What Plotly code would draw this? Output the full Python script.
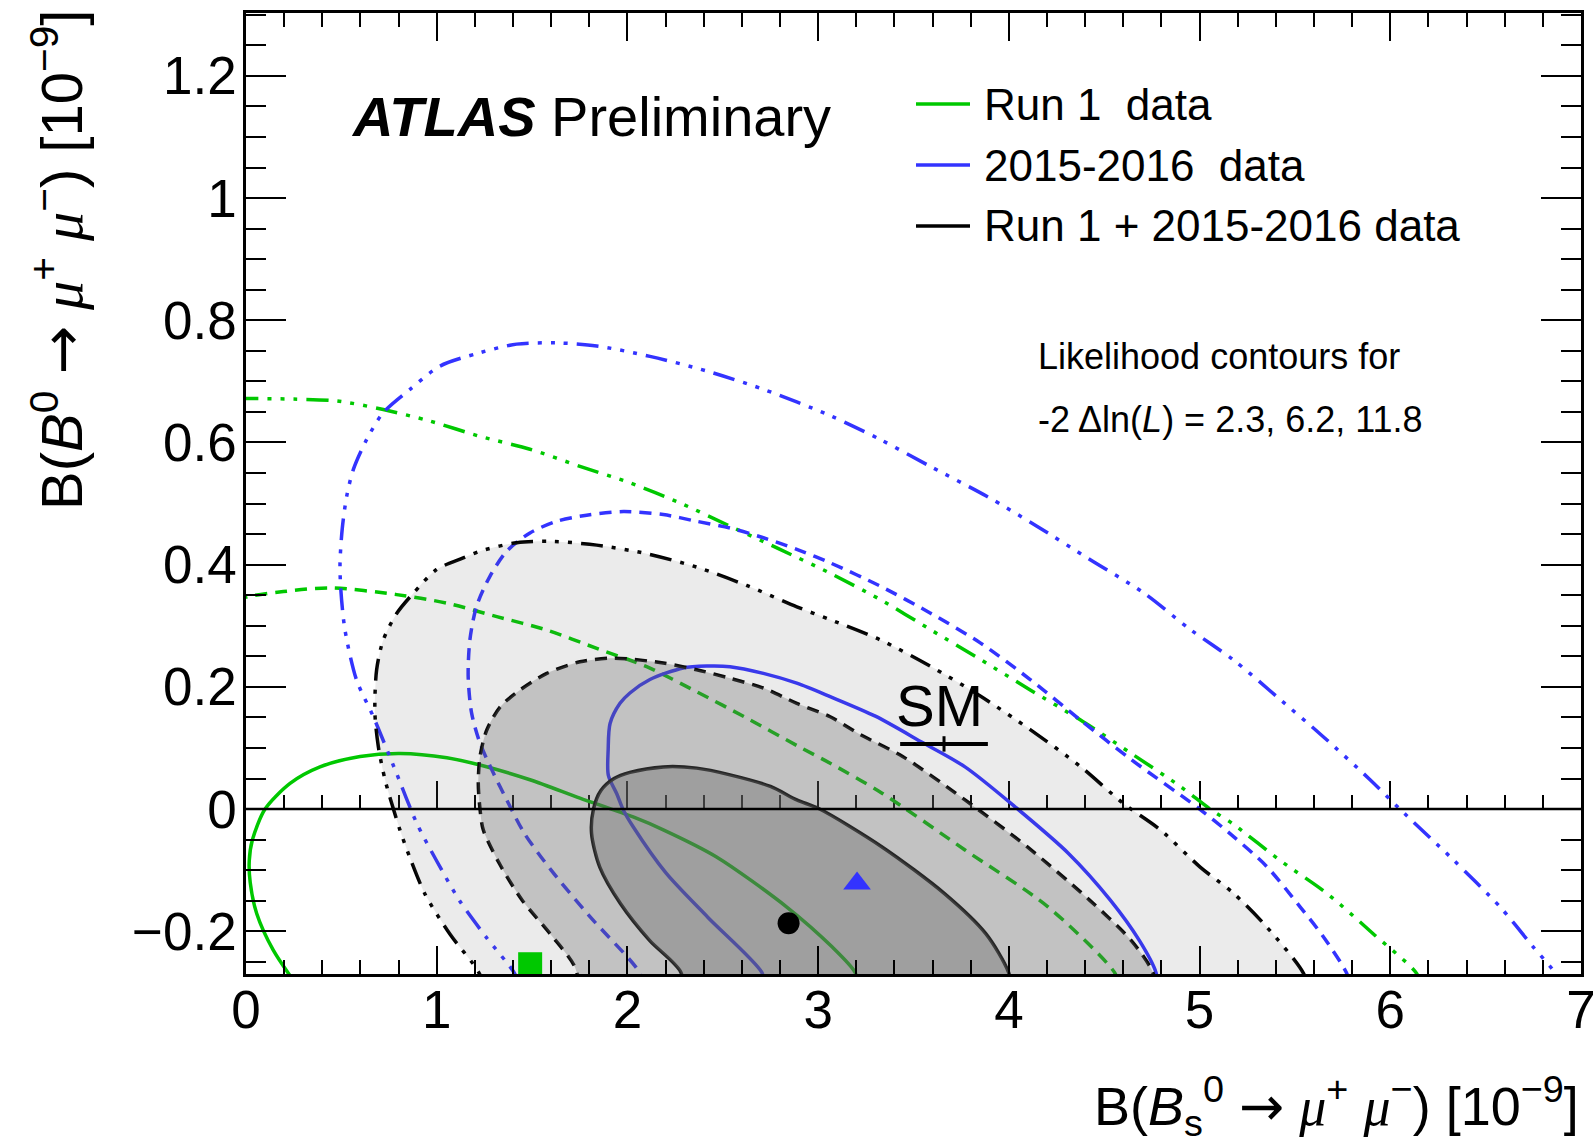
import plotly.graph_objects as go

# ---------------- data ----------------
# Run 1 contours (green): -2 dlnL = 2.3 (solid), 6.2 (dashed), 11.8 (dash-dot)
run1_23_x = [0.27, 0.143, 0.056, 0.022, 0.017, 0.033, 0.1, 0.231, 0.388, 0.598, 0.808, 1.053, 1.227, 1.489, 1.751, 2.03, 2.188, 2.465, 2.834, 3.074, 3.193, 3.21]
run1_23_y = [-0.29, -0.231, -0.171, -0.12, -0.085, -0.051, 0.0, 0.042, 0.069, 0.086, 0.091, 0.084, 0.072, 0.048, 0.018, -0.013, -0.034, -0.078, -0.16, -0.226, -0.267, -0.29]
run1_62_x = [-0.05, 0.0, 0.196, 0.44, 0.79, 1.053, 1.315, 1.577, 1.839, 2.101, 2.363, 2.625, 2.9, 3.063, 3.335, 3.77, 4.205, 4.553, 4.58]
run1_62_y = [0.34, 0.347, 0.356, 0.362, 0.351, 0.337, 0.315, 0.293, 0.263, 0.233, 0.192, 0.149, 0.102, 0.075, 0.026, -0.067, -0.16, -0.267, -0.29]
run1_118_x = [-0.05, 0.0, 0.25, 0.476, 0.72, 0.965, 1.227, 1.489, 1.751, 2.013, 2.276, 2.538, 2.8, 3.063, 3.325, 3.587, 3.85, 4.112, 4.374, 4.637, 4.899, 5.055, 5.178, 5.422, 5.667, 5.91, 6.138, 6.16]
run1_118_y = [0.672, 0.672, 0.671, 0.668, 0.654, 0.635, 0.61, 0.589, 0.561, 0.534, 0.501, 0.463, 0.425, 0.386, 0.343, 0.294, 0.245, 0.195, 0.146, 0.092, 0.037, 0.0, -0.025, -0.084, -0.138, -0.204, -0.269, -0.29]

# 2015-2016 contours (blue)
r2_23_x = [2.72, 2.704, 2.421, 2.203, 2.03, 1.979, 1.944, 1.9, 1.899, 1.909, 1.961, 2.013, 2.118, 2.293, 2.416, 2.538, 2.713, 2.888, 3.063, 3.3, 3.552, 3.77, 4.031, 4.314, 4.532, 4.684, 4.771, 4.78]
r2_23_y = [-0.29, -0.267, -0.177, -0.105, -0.029, -0.002, 0.025, 0.055, 0.097, 0.14, 0.173, 0.19, 0.212, 0.231, 0.234, 0.233, 0.222, 0.206, 0.184, 0.152, 0.108, 0.069, 0.004, -0.073, -0.149, -0.215, -0.267, -0.29]
r2_62_x = [2.08, 2.062, 1.8, 1.6, 1.46, 1.367, 1.297, 1.227, 1.183, 1.165, 1.174, 1.209, 1.279, 1.367, 1.489, 1.629, 1.786, 1.979, 2.188, 2.363, 2.538, 2.713, 2.888, 3.063, 3.325, 3.587, 3.85, 4.112, 4.374, 4.637, 5.0, 5.178, 5.352, 5.527, 5.649, 5.772, 5.79]
r2_62_y = [-0.29, -0.267, -0.175, -0.1, -0.04, 0.015, 0.059, 0.108, 0.157, 0.217, 0.277, 0.332, 0.381, 0.422, 0.452, 0.471, 0.481, 0.487, 0.482, 0.471, 0.46, 0.444, 0.425, 0.403, 0.365, 0.321, 0.272, 0.212, 0.146, 0.082, 0.0, -0.045, -0.094, -0.16, -0.209, -0.269, -0.29]
r2_118_x = [1.43, 1.41, 1.26, 1.12, 1.0, 0.895, 0.79, 0.668, 0.58, 0.519, 0.497, 0.493, 0.505, 0.528, 0.563, 0.633, 0.72, 0.86, 1.017, 1.227, 1.419, 1.629, 1.839, 2.118, 2.416, 2.713, 3.063, 3.325, 3.587, 3.884, 4.147, 4.427, 4.706, 4.951, 5.178, 5.405, 5.65, 5.894, 6.05, 6.33, 6.575, 6.75, 6.864, 6.88]
r2_118_y = [-0.29, -0.27, -0.21, -0.15, -0.085, -0.023, 0.058, 0.151, 0.211, 0.293, 0.36, 0.403, 0.46, 0.512, 0.556, 0.605, 0.649, 0.687, 0.725, 0.747, 0.761, 0.763, 0.758, 0.741, 0.717, 0.687, 0.644, 0.605, 0.561, 0.512, 0.463, 0.408, 0.354, 0.294, 0.244, 0.184, 0.118, 0.048, 0.0, -0.083, -0.16, -0.226, -0.269, -0.29]

# Run 1 + 2015-2016 contours (black, filled)
comb_23_x = [2.3, 2.28, 2.116, 1.964, 1.855, 1.812, 1.822, 1.86, 1.93, 2.013, 2.188, 2.363, 2.538, 2.75, 2.888, 3.008, 3.335, 3.661, 3.879, 3.998, 4.03]
comb_23_y = [-0.32, -0.267, -0.215, -0.155, -0.095, -0.04, 0.0, 0.03, 0.05, 0.06, 0.069, 0.067, 0.056, 0.037, 0.015, 0.0, -0.062, -0.138, -0.204, -0.267, -0.32]
comb_62_x = [1.76, 1.725, 1.594, 1.45, 1.33, 1.244, 1.227, 1.218, 1.227, 1.262, 1.332, 1.437, 1.577, 1.751, 1.926, 2.188, 2.363, 2.538, 2.713, 2.888, 3.063, 3.22, 3.443, 3.77, 4.097, 4.423, 4.641, 4.75, 4.8]
comb_62_y = [-0.32, -0.259, -0.204, -0.15, -0.09, -0.034, 0.0, 0.042, 0.086, 0.129, 0.167, 0.195, 0.222, 0.241, 0.247, 0.239, 0.228, 0.214, 0.198, 0.173, 0.151, 0.122, 0.086, 0.015, -0.062, -0.149, -0.215, -0.264, -0.32]
comb_118_x = [1.27, 1.225, 1.07, 0.94, 0.86, 0.807, 0.773, 0.729, 0.694, 0.676, 0.685, 0.72, 0.79, 0.877, 0.999, 1.139, 1.227, 1.42, 1.611, 1.839, 2.101, 2.363, 2.625, 2.888, 3.063, 3.325, 3.587, 3.85, 4.112, 4.374, 4.601, 4.794, 5.003, 5.178, 5.352, 5.545, 5.6]
comb_118_y = [-0.32, -0.27, -0.205, -0.14, -0.08, -0.034, 0.0, 0.048, 0.102, 0.157, 0.228, 0.277, 0.32, 0.353, 0.392, 0.411, 0.422, 0.436, 0.438, 0.432, 0.418, 0.396, 0.366, 0.331, 0.31, 0.277, 0.234, 0.185, 0.13, 0.07, 0.009, -0.034, -0.095, -0.138, -0.193, -0.269, -0.32]

# best-fit points and SM prediction
best_run1 = [1.49, -0.254]
best_r2 = [3.204, -0.122]
best_comb = [2.845, -0.187]
sm_x = [3.66]
sm_y = [0.1066]
sm_xerr = [0.23]

x_range = [0, 7]
y_range = [-0.27, 1.303]
legend_labels = ["Run 1\u00a0 data", "2015-2016\u00a0 data", "Run 1 + 2015-2016 data"]

# ---------------- styles ----------------
GREEN = "#00c800"
BLUE = "#3333ff"
BLACK = "#000000"
FONT = "Liberation Sans, Arial, Helvetica, sans-serif"
DASH = "12px,8px"
DASHDOT = "22px,9px,4px,9px,4px,9px,4px,9px"
LW = 3.5

fig = go.Figure()


def add_line(x, y, color, dash):
    fig.add_trace(go.Scatter(x=x, y=y, mode="lines",
                             line=dict(color=color, width=LW, dash=dash, shape="spline", smoothing=0.8),
                             hoverinfo="skip", showlegend=False))


add_line(run1_23_x, run1_23_y, GREEN, "solid")
add_line(run1_62_x, run1_62_y, GREEN, DASH)
add_line(run1_118_x, run1_118_y, GREEN, DASHDOT)
add_line(r2_23_x, r2_23_y, BLUE, "solid")
add_line(r2_62_x, r2_62_y, BLUE, DASH)
add_line(r2_118_x, r2_118_y, BLUE, DASHDOT)
add_line(comb_23_x, comb_23_y, BLACK, "solid")
add_line(comb_62_x, comb_62_y, BLACK, DASH)
add_line(comb_118_x, comb_118_y, BLACK, DASHDOT)

# semi-transparent grey fills drawn over the lines
for xs, ys, a in [(comb_118_x, comb_118_y, 0.13), (comb_62_x, comb_62_y, 0.30), (comb_23_x, comb_23_y, 0.37)]:
    fig.add_trace(go.Scatter(x=xs, y=ys, mode="lines", fill="toself",
                             line=dict(width=0, shape="spline", smoothing=0.8, color="rgba(0,0,0,0)"),
                             fillcolor="rgba(100,100,100,%g)" % a, hoverinfo="skip", showlegend=False))

# best-fit markers
fig.add_trace(go.Scatter(x=[best_run1[0]], y=[best_run1[1]], mode="markers",
                         marker=dict(symbol="square", size=24, color=GREEN), showlegend=False))
fig.add_trace(go.Scatter(x=[best_r2[0]], y=[best_r2[1]], mode="markers",
                         marker=dict(symbol="triangle-up", size=24, color=BLUE), showlegend=False))
fig.add_trace(go.Scatter(x=[best_comb[0]], y=[best_comb[1]], mode="markers",
                         marker=dict(symbol="circle", size=22, color=BLACK), showlegend=False))

# SM point with error bar
fig.add_trace(go.Scatter(x=sm_x, y=sm_y, mode="markers",
                         marker=dict(symbol="line-ns", size=11, line=dict(width=3, color=BLACK)),
                         error_x=dict(type="data", array=sm_xerr, width=0, thickness=4, color=BLACK),
                         showlegend=False))

# ---------------- layout ----------------
L, R, T, B = 246, 1581, 13, 974


def px(v):
    return (v - L) / (R - L)


def py(v):
    return (B - v) / (B - T)


axis_common = dict(showline=True, linecolor="black", linewidth=2.5, mirror="ticks", ticks="inside",
                   tickcolor="black", tickwidth=2, showgrid=False, zeroline=False, automargin=False,
                   ticklabeloverflow="allow",
                   tickfont=dict(family=FONT, size=53, color="black"))

fig.update_layout(
    width=1593, height=1145,
    margin=dict(l=L, r=1593 - R, t=T, b=1145 - B, pad=0),
    paper_bgcolor="white", plot_bgcolor="white",
    showlegend=False,
    xaxis=dict(range=x_range, tick0=0, dtick=1, ticklen=28, ticklabelstandoff=-12,
               minor=dict(ticks="inside", dtick=0.2, ticklen=14, tickwidth=2, tickcolor="black", showgrid=False),
               **axis_common),
    yaxis=dict(range=y_range, tick0=0, dtick=0.2, ticklen=40, ticklabelstandoff=-4,
               minor=dict(ticks="inside", dtick=0.05, ticklen=20, tickwidth=2, tickcolor="black", showgrid=False),
               **axis_common),
    xaxis2=dict(range=x_range, overlaying="x", anchor="free",
                position=(0 - y_range[0]) / (y_range[1] - y_range[0]), side="bottom",
                showline=False, ticks="inside", tick0=0, dtick=1, ticklen=28, tickwidth=2, tickcolor="black",
                showticklabels=False, showgrid=False, zeroline=False, layer="below traces",
                minor=dict(ticks="inside", dtick=0.2, ticklen=14, tickwidth=2, tickcolor="black", showgrid=False)),
)

# dummy trace to activate xaxis2
fig.add_trace(go.Scatter(x=[None], y=[None], xaxis="x2", yaxis="y", showlegend=False, hoverinfo="skip"))

shapes = [dict(type="line", xref="x", yref="y", x0=x_range[0], x1=x_range[1], y0=0, y1=0,
               line=dict(color="black", width=2.5), layer="above")]
ann = []

# legend (manual)
leg_rows = [104, 165, 226]
for lab, col, yy in zip(legend_labels, [GREEN, BLUE, BLACK], leg_rows):
    shapes.append(dict(type="line", xref="paper", yref="paper", x0=px(916), x1=px(970), y0=py(yy), y1=py(yy),
                       line=dict(color=col, width=3.5)))
    ann.append(dict(xref="paper", yref="paper", x=px(982), y=py(yy), xanchor="left", yanchor="middle",
                    text=lab, showarrow=False, font=dict(family=FONT, size=44, color="black")))

ann.append(dict(xref="paper", yref="paper", x=px(349), y=py(116), xanchor="left", yanchor="middle",
                text="<b><i>ATLAS</i></b> Preliminary", showarrow=False,
                font=dict(family=FONT, size=56, color="black")))
ann.append(dict(xref="paper", yref="paper", x=px(1036), y=py(356), xanchor="left", yanchor="middle",
                text="Likelihood contours for", showarrow=False, font=dict(family=FONT, size=36, color="black")))
ann.append(dict(xref="paper", yref="paper", x=px(1036), y=py(419), xanchor="left", yanchor="middle",
                text="-2 \u0394ln(<i>L</i>) = 2.3, 6.2, 11.8", showarrow=False,
                font=dict(family=FONT, size=36, color="black")))
ann.append(dict(xref="x", yref="y", x=sm_x[0], y=sm_y[0], yshift=38, xshift=-5, xanchor="center", yanchor="middle",
                text="SM", showarrow=False, font=dict(family=FONT, size=58, color="black")))

MU = '<span style="font-family:Liberation Serif"><i>\u03bc</i></span>'
ARROW = '<span style="font-family:DejaVu Sans">\u2192</span>'
xtitle = "B(<i>B</i><sub>s</sub><sup>0</sup> " + ARROW + " " + MU + "<sup>+</sup> " + MU + "<sup>\u2212</sup>) [10<sup>\u22129</sup>]"
ytitle = "B(<i>B</i><sup>0</sup> " + ARROW + " " + MU + "<sup>+</sup> " + MU + "<sup>\u2212</sup>) [10<sup>\u22129</sup>]"
ann.append(dict(xref="paper", yref="paper", x=px(1581), y=py(1106), xanchor="right", yanchor="middle",
                text=xtitle, showarrow=False, font=dict(family=FONT, size=54, color="black")))
ann.append(dict(xref="paper", yref="paper", x=px(58), y=py(8), xanchor="center", yanchor="top", textangle=-90,
                text=ytitle, showarrow=False, font=dict(family=FONT, size=58, color="black")))

fig.update_layout(shapes=shapes, annotations=ann)

fig.write_html("out.html", config={"displayModeBar": False},
               post_script="document.body.style.margin='0';document.body.style.overflow='hidden';")
